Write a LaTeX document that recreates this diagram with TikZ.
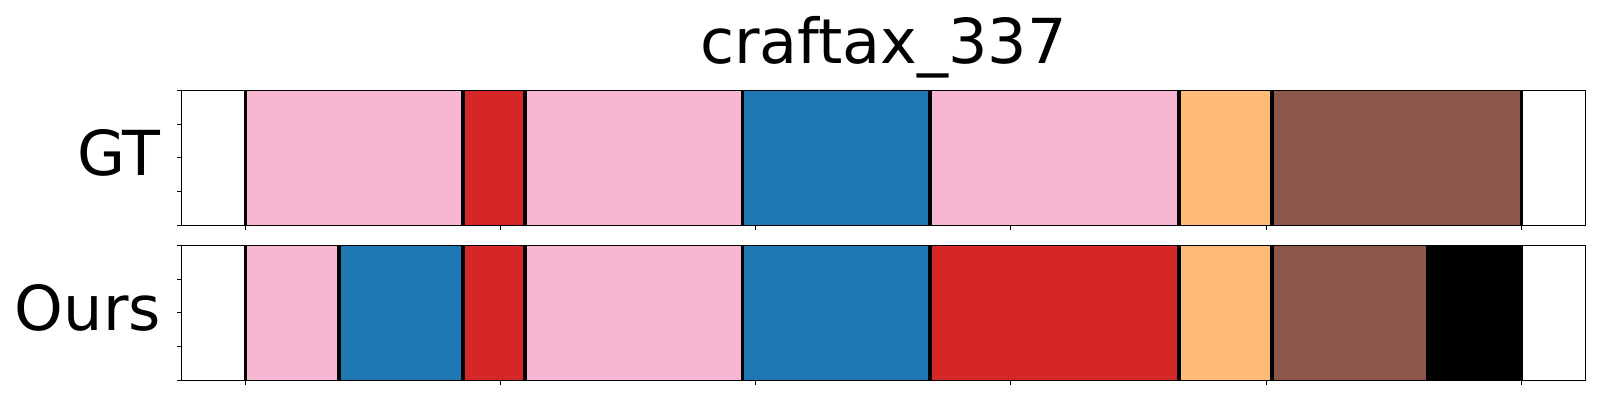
\documentclass[tikz,border=0pt]{standalone}
\usepackage{fontspec}
\setmainfont{DejaVu Sans}
\definecolor{tpink}{HTML}{F7B6D2}
\definecolor{tred}{HTML}{D62728}
\definecolor{tblue}{HTML}{1F77B4}
\definecolor{torange}{HTML}{FFBB78}
\definecolor{tbrown}{HTML}{8C564B}
\begin{document}
\begin{tikzpicture}[x=1pt,y=-1pt,
  axframe/.style={draw=black,line width=1.2pt},
  tickln/.style={draw=black,line width=1.1pt},
  sepline/.style={draw=black,line width=3.5pt},
  lbl/.style={inner sep=0pt,font=\fontsize{62}{70}\selectfont},
  ttl/.style={inner sep=0pt,font=\fontsize{62}{70}\selectfont}]
\useasboundingbox (0,0) rectangle (1600,400);
\fill[white] (0,0) rectangle (1600,400);
% GT segments
\foreach \a/\b/\c in {245.3/463/tpink,463/525/tred,525/742.7/tpink,742.7/930/tblue,930/1179/tpink,1179/1272/torange,1272/1521.3/tbrown}
  \fill[\c] (\a,90.3) rectangle (\b,225.3);
% Ours segments
\foreach \a/\b/\c in {245.3/339/tpink,339/463/tblue,463/525/tred,525/742.7/tpink,742.7/930/tblue,930/1179/tred,1179/1272/torange,1272/1426/tbrown,1426/1521.3/black}
  \fill[\c] (\a,245.3) rectangle (\b,380.3);
% boundary lines
\foreach \x in {245.3,463,525,742.7,930,1179,1272,1521.3}
  \draw[sepline] (\x,90.3) -- (\x,225.3);
\foreach \x in {245.3,339,463,525,742.7,930,1179,1272,1521.3}
  \draw[sepline] (\x,245.3) -- (\x,380.3);
% frames
\draw[axframe] (181.7,90.3) rectangle (1585.3,225.3);
\draw[axframe] (181.7,245.3) rectangle (1585.3,380.3);
% ticks
\foreach \i in {0,...,4} {
  \draw[tickln] ({181.7},{90.3+33.75*\i}) -- ++(-5,0);
  \draw[tickln] ({181.7},{245.3+33.75*\i}) -- ++(-5,0);
}
\foreach \i in {0,...,5} {
  \draw[tickln] ({245.3+255.2*\i},{225.3}) -- ++(0,5);
  \draw[tickln] ({245.3+255.2*\i},{380.3}) -- ++(0,5);
}
% labels
\node[lbl,anchor=base east] (gt) at (161,175) {GT};
\node[lbl,anchor=base east] (ours) at (161,330) {Ours};
\node[ttl,anchor=base] (title) at (883.5,63.3) {craftax\_337};
\end{tikzpicture}
\end{document}
